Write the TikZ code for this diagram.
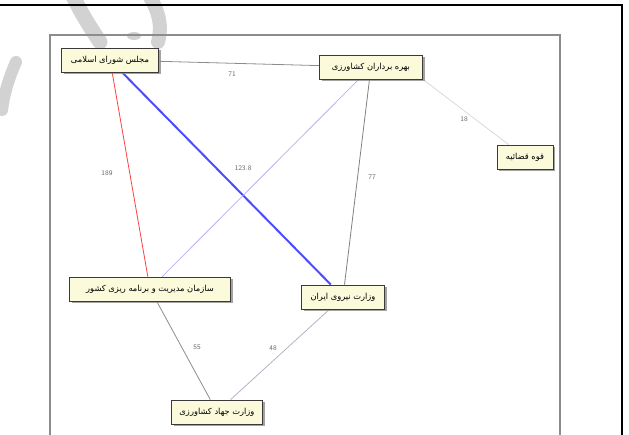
\documentclass[tikz,border=0pt]{standalone}
\usepackage{fontspec}
\TeXXeTstate=1
\newfontfamily\fafont[Script=Arabic]{DejaVu Sans}
\usetikzlibrary{shadows,backgrounds}
\definecolor{boxfill}{HTML}{FBFBDB}
\definecolor{boxline}{HTML}{3A3A3A}
\definecolor{wm}{HTML}{D2D2D2}
\tikzset{
  actor/.style={draw=boxline, line width=0.8pt, fill=boxfill, minimum height=24pt,
    inner sep=1pt, font=\fafont\fontsize{8.3}{9}\selectfont,
    drop shadow={shadow xshift=2pt, shadow yshift=-2pt, fill=black!45, opacity=0.8}},
  link/.style={line width=0.8pt},
  lab/.style={font=\sffamily\fontsize{7}{8}\selectfont, text=black!60, inner sep=1pt}
}
\begin{document}
\begin{tikzpicture}[x=1pt,y=-1pt]
\useasboundingbox (0,0) rectangle (629,435);
% nodes
\node[actor, minimum width=97pt]  (A) at (110,60)  {\beginR مجلس شورای اسلامی\endR};
\node[actor, minimum width=103pt] (B) at (371,67)  {\beginR بهره برداران کشاورزی\endR};
\node[actor, minimum width=56pt]  (C) at (525,157) {\beginR قوه قضائیه\endR};
\node[actor, minimum width=161pt] (D) at (150,289) {\beginR سازمان مدیریت و برنامه ریزی کشور\endR};
\node[actor, minimum width=83pt]  (E) at (343,297) {\beginR وزارت نیروی ایران\endR};
\node[actor, minimum width=91pt]  (F) at (217,412) {\beginR وزارت جهاد کشاورزی\endR};
\begin{scope}[on background layer]
% watermark
\draw[wm, line width=15pt, line cap=round] (72,-6) .. controls (82,15) and (92,30) .. (100,42);
\draw[wm, line width=14pt, line cap=round] (148,-6) .. controls (160,12) and (162,28) .. (158,42);
\fill[wm] (134,36) ellipse (7pt and 4pt);
\draw[wm, line width=12pt, line cap=round] (16,62) .. controls (8,80) and (4,95) .. (2,110);
% outer frame
\draw[black, line width=2pt] (0,5) -- (622,5) -- (622,440);
% inner frame
\draw[black!45, line width=1.2pt] (50,440) -- (50,35) -- (560,35) -- (560,440);
% links
\draw[link, black!45] (A) -- (B);
\draw[link, black!15] (B.south east) -- (C);
\draw[link, red!75] (A) -- (D);
\draw[line width=2pt, blue!70] (A) -- (E);
\draw[link, blue!30] (B) -- (D);
\draw[link, black!50] (B) -- (E);
\draw[link, black!45] (D) -- (F);
\draw[link, blue!25!black!30] (E) -- (F);
\end{scope}
% labels
\node[lab] (l1) at (232,74) {71};
\node[lab] (l2) at (464,119) {18};
\node[lab] (l3) at (107,173) {189};
\node[lab] (l4) at (243,168) {123.8};
\node[lab] (l5) at (372,177) {77};
\node[lab] (l6) at (197,347) {55};
\node[lab] (l7) at (273,348) {48};
\end{tikzpicture}
\end{document}
